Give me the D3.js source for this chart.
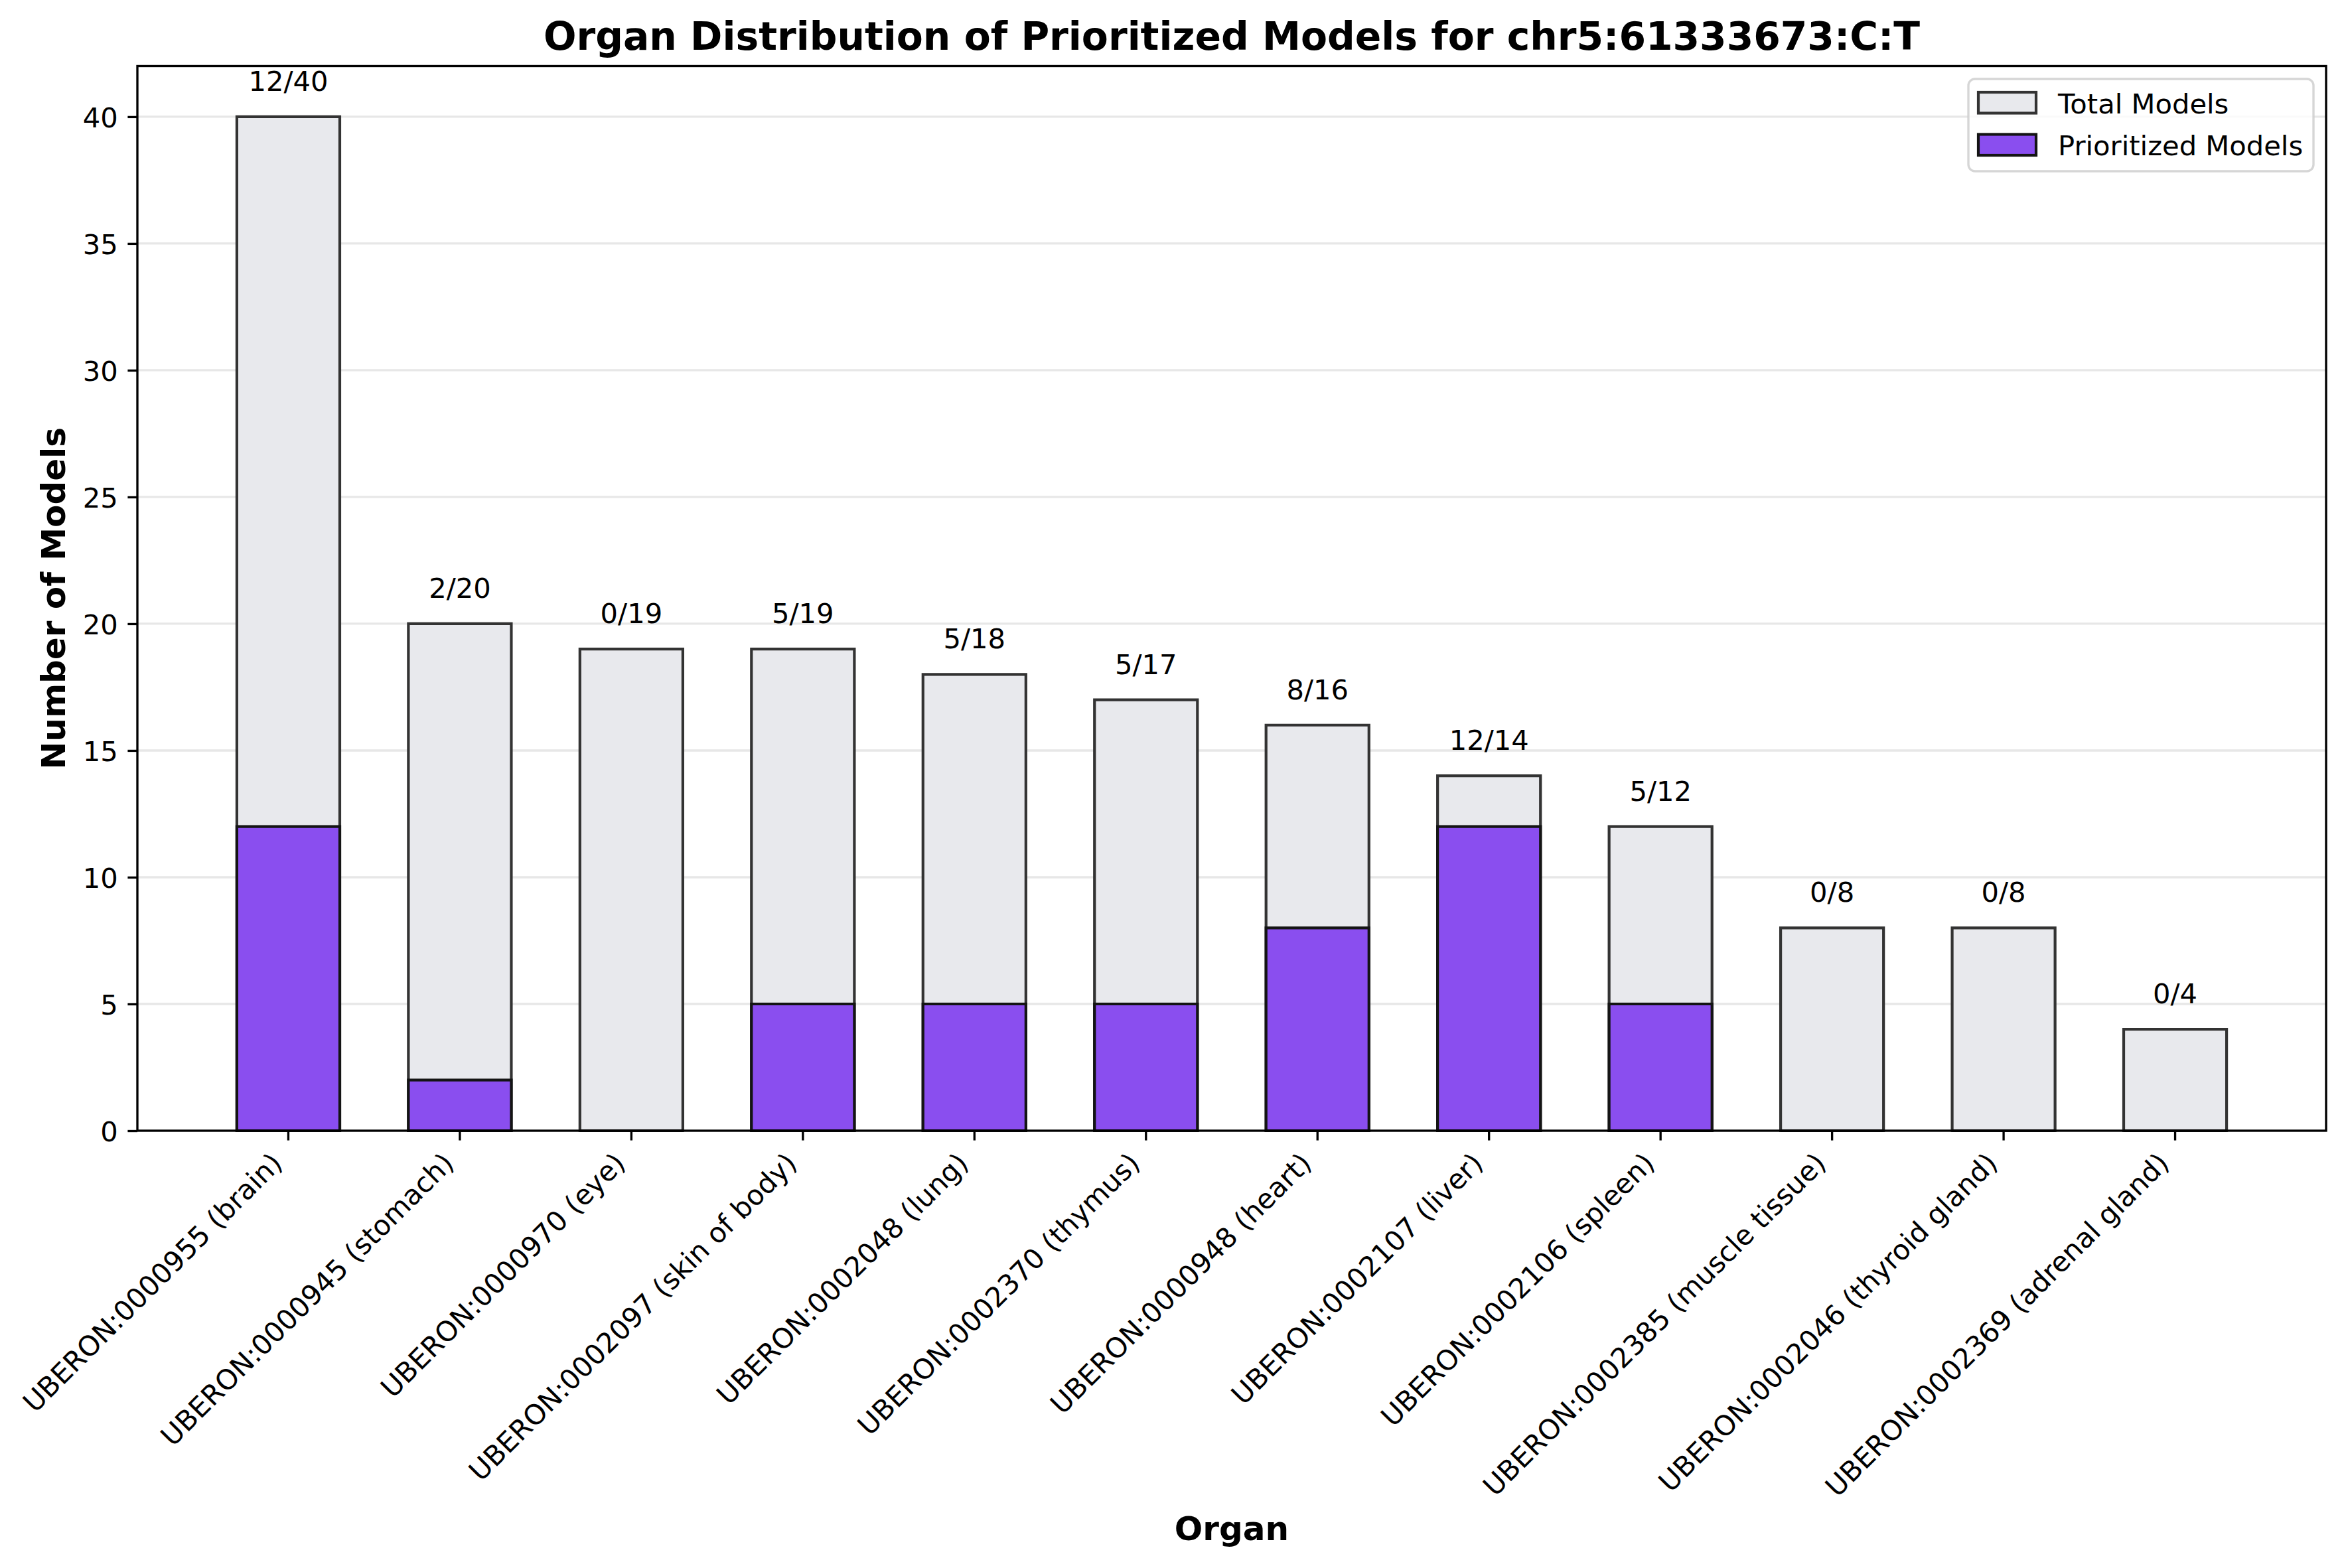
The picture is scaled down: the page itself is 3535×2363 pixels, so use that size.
<!DOCTYPE html>
<html>
<head>
<meta charset="utf-8">
<script src="https://cdn.jsdelivr.net/npm/d3@7"></script>
<style>
  body { margin: 0; background: #fff; }
  svg { display: block; }
  text { font-family: "DejaVu Sans", sans-serif; fill: #000; }
</style>
</head>
<body>
<svg id="chart"></svg>
<script>
// organ ids and names, in the order shown
const organIds = ['0000955', '0000945', '0000970', '0002097', '0002048', '0002370',
    '0000948', '0002107', '0002106', '0002385', '0002046', '0002369'];
const organNames = ['brain', 'stomach', 'eye', 'skin of body', 'lung', 'thymus',
    'heart', 'liver', 'spleen', 'muscle tissue', 'thyroid gland', 'adrenal gland'];
const totalModels = [40, 20, 19, 19, 18, 17, 16, 14, 12, 8, 8, 4];
const prioritizedModels = [12, 2, 0, 5, 5, 5, 8, 12, 5, 0, 0, 0];
const yTicks = [0, 5, 10, 15, 20, 25, 30, 35, 40];
const legendLabels = ['Total Models', 'Prioritized Models'];

const W = 3535, H = 2363;
const plot = { x0: 207, x1: 3505, y0: 99.5, y1: 1704 };
const fs = 41.67;          // 10pt at 300 dpi
const tickLen = 14.6, tickPad = 14.6, lw = 3.33;

const colors = {
    totalFill: '#e8e9ed',
    totalEdge: '#333333',
    prioFill: '#8a4eef',
    prioEdge: '#141414'
};

const labels = organIds.map((id, i) => `UBERON:${id} (${organNames[i]})`);
const rows = labels.map((l, i) => ({ label: l, total: totalModels[i], prio: prioritizedModels[i] }));

const svg = d3.select('#chart').attr('width', W).attr('height', H);
svg.append('rect').attr('width', W).attr('height', H).attr('fill', '#fff');

const x = d3.scaleBand()
    .domain(labels)
    .range([plot.x0, plot.x1])
    .paddingInner(0.4)
    .paddingOuter(0.58);

const y = d3.scaleLinear()
    .domain([0, 42])
    .range([plot.y1, plot.y0]);

// horizontal grid
svg.append('g').selectAll('line')
    .data(yTicks)
    .join('line')
    .attr('x1', plot.x0).attr('x2', plot.x1)
    .attr('y1', d => y(d)).attr('y2', d => y(d))
    .attr('stroke', '#b0b0b0')
    .attr('stroke-opacity', 0.3)
    .attr('stroke-width', lw);

// bar outline as a path so zero-height bars still show their edge
const barPath = (label, v) => {
    const a = x(label), b = a + x.bandwidth();
    return `M${a},${y(0)}H${b}V${y(v)}H${a}Z`;
};

svg.append('g').selectAll('path')
    .data(rows)
    .join('path')
    .attr('d', d => barPath(d.label, d.total))
    .attr('fill', colors.totalFill)
    .attr('stroke', colors.totalEdge)
    .attr('stroke-width', 4.2);

svg.append('g').selectAll('path')
    .data(rows)
    .join('path')
    .attr('d', d => barPath(d.label, d.prio))
    .attr('fill', colors.prioFill)
    .attr('stroke', colors.prioEdge)
    .attr('stroke-width', 4.2);

// count labels above bars
svg.append('g').selectAll('text')
    .data(rows)
    .join('text')
    .attr('x', d => x(d.label) + x.bandwidth() / 2)
    .attr('y', d => y(d.total) - 39)
    .attr('text-anchor', 'middle')
    .style('font-size', fs + 'px')
    .text(d => `${d.prio}/${d.total}`);

// y axis
const yAxis = svg.append('g')
    .attr('transform', `translate(${plot.x0},0)`)
    .call(d3.axisLeft(y).tickValues(yTicks).tickSize(tickLen).tickPadding(tickPad).tickSizeOuter(0));
yAxis.select('.domain').remove();
yAxis.selectAll('.tick line').attr('stroke', '#000').attr('stroke-width', lw);
yAxis.selectAll('.tick text')
    .attr('dy', '0.365em')
    .attr('fill', '#000')
    .style('font-size', fs + 'px')
    .style('font-family', '"DejaVu Sans", sans-serif');

// x axis, labels rotated 45deg and right aligned like matplotlib
const xAxis = svg.append('g')
    .attr('transform', `translate(0,${plot.y1})`)
    .call(d3.axisBottom(x).tickSize(tickLen).tickSizeOuter(0));
xAxis.select('.domain').remove();
xAxis.selectAll('.tick line').attr('stroke', '#000').attr('stroke-width', lw);
const asc = 0.76 * fs, desc = 0.23 * fs;
xAxis.selectAll('.tick text')
    .attr('y', 0).attr('dy', 0)
    .attr('text-anchor', 'end')
    .attr('fill', '#000')
    .style('font-size', fs + 'px')
    .style('font-family', '"DejaVu Sans", sans-serif')
    .attr('transform', `translate(${-0.7071 * desc},${tickLen + tickPad + 0.7071 * asc}) rotate(-45)`);

// spines
svg.append('rect')
    .attr('x', plot.x0).attr('y', plot.y0)
    .attr('width', plot.x1 - plot.x0).attr('height', plot.y1 - plot.y0)
    .attr('fill', 'none')
    .attr('stroke', '#000')
    .attr('stroke-width', lw);

// legend
const lgX = plot.x1 - 539, lgY = plot.y0 + 19.5;
const legend = svg.append('g').attr('transform', `translate(${lgX},${lgY})`);
legend.append('rect')
    .attr('width', 520).attr('height', 139).attr('rx', 10)
    .attr('fill', '#fff').attr('fill-opacity', 0.8)
    .attr('stroke', '#cccccc').attr('stroke-opacity', 0.8)
    .attr('stroke-width', lw);
const items = legend.selectAll('g.item')
    .data(legendLabels)
    .join('g')
    .attr('class', 'item')
    .attr('transform', (d, i) => `translate(15,${20 + i * 63.5})`);
items.append('rect')
    .attr('width', 87).attr('height', 31.5)
    .attr('fill', (d, i) => i === 0 ? colors.totalFill : colors.prioFill)
    .attr('stroke', (d, i) => i === 0 ? colors.totalEdge : colors.prioEdge)
    .attr('stroke-width', 4.2);
items.append('text')
    .attr('x', 120).attr('y', 31.5)
    .style('font-size', fs + 'px')
    .text(d => d);

// titles
const cx = (plot.x0 + plot.x1) / 2;
svg.append('text')
    .attr('x', cx).attr('y', 75)
    .attr('text-anchor', 'middle')
    .style('font-size', '58.3px').style('font-weight', 'bold')
    .text('Organ Distribution of Prioritized Models for chr5:61333673:C:T');

svg.append('text')
    .attr('x', cx).attr('y', 2321)
    .attr('text-anchor', 'middle')
    .style('font-size', '50px').style('font-weight', 'bold')
    .text('Organ');

svg.append('text')
    .attr('transform', `translate(98,${(plot.y0 + plot.y1) / 2}) rotate(-90)`)
    .attr('text-anchor', 'middle')
    .style('font-size', '50px').style('font-weight', 'bold')
    .text('Number of Models');
</script>
</body>
</html>
